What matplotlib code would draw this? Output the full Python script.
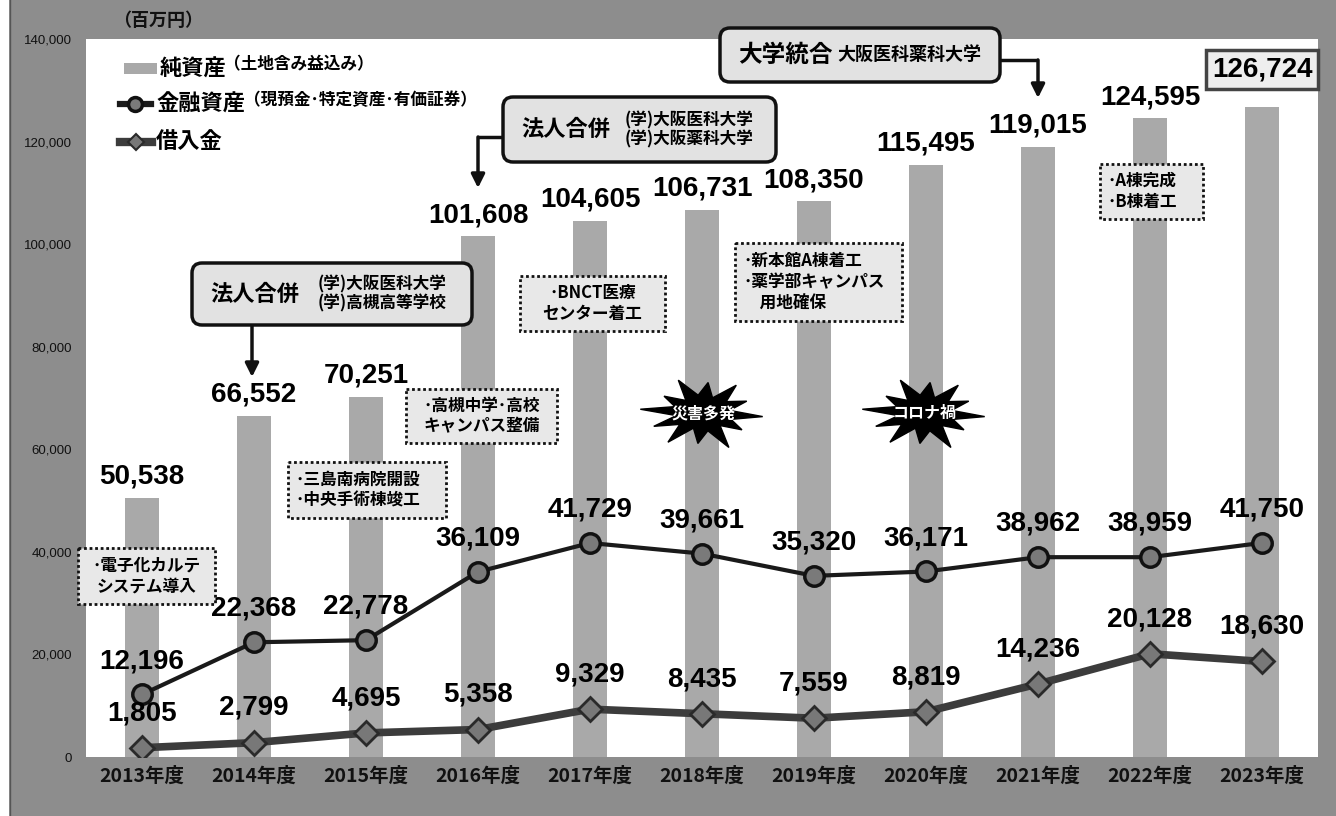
import numpy as np
import matplotlib
matplotlib.use('Agg')
import matplotlib.pyplot as plt
from matplotlib.patches import FancyBboxPatch, Rectangle, Polygon
from matplotlib.lines import Line2D

plt.rcParams['font.family'] = ['Noto Sans CJK JP', 'DejaVu Sans']
NUM = ['Liberation Sans', 'DejaVu Sans']

years = ['2013年度', '2014年度', '2015年度', '2016年度', '2017年度', '2018年度',
         '2019年度', '2020年度', '2021年度', '2022年度', '2023年度']
net_assets = [50538, 66552, 70251, 101608, 104605, 106731, 108350, 115495, 119015, 124595, 126724]
fin_assets = [12196, 22368, 22778, 36109, 41729, 39661, 35320, 36171, 38962, 38959, 41750]
loans = [1805, 2799, 4695, 5358, 9329, 8435, 7559, 8819, 14236, 20128, 18630]
yticks = [0, 20000, 40000, 60000, 80000, 100000, 120000, 140000]

BG = '#8d8d8d'
BAR = '#a9a9a9'

W, H = 1336, 816
fig = plt.figure(figsize=(W/100, H/100), dpi=100, facecolor=BG)
fig.patches.append(Rectangle((0, 0), 9/W, 1, transform=fig.transFigure, facecolor='white', edgecolor='none'))
fig.lines.append(Line2D([10/W, 10/W], [0, 1], transform=fig.transFigure, color='#555555', lw=1))

ax = fig.add_axes([86/W, (H-757)/H, (1318-86)/W, (757-39)/H])
ax.set_facecolor('white')
x = np.arange(len(years))

# bars + lines
ax.bar(x, net_assets, width=0.3, color=BAR, zorder=1)
ax.plot(x, loans, color='#3c3c3c', lw=5.5, marker='D', ms=12, mfc='#787878', mec='#2a2a2a', mew=2, zorder=3)
ax.plot(x, fin_assets, color='#1a1a1a', lw=3, marker='o', ms=14, mfc='#7a7a7a', mec='#111111', mew=2.5, zorder=4)

ax.set_xlim(-0.5, len(years) - 0.5)
ax.set_ylim(0, 140000)
ax.set_yticks(yticks)
ax.set_yticklabels(['{:,}'.format(v) for v in yticks], fontsize=9.5, family=NUM, color='#111111')
ax.set_xticks(x)
ax.set_xticklabels(years, fontsize=14, fontweight='bold', color='#111111')
ax.tick_params(axis='y', length=0, pad=10)
ax.tick_params(axis='x', length=0, pad=7)
for s in ax.spines.values():
    s.set_visible(False)

# value labels
for i, v in enumerate(net_assets):
    if i == len(net_assets) - 1:
        ax.annotate('{:,}'.format(v), (i, v), xytext=(0, 27), textcoords='offset points',
                    ha='center', va='center', fontsize=20, fontweight='bold', family=NUM,
                    bbox=dict(boxstyle='square,pad=0.22', fc='#eeeeee', ec='#444444', lw=2.5), zorder=6)
    else:
        ax.annotate('{:,}'.format(v), (i, v), xytext=(0, 15), textcoords='offset points',
                    ha='center', va='center', fontsize=20, fontweight='bold', family=NUM, zorder=6)
for i, v in enumerate(fin_assets):
    ax.annotate('{:,}'.format(v), (i, v), xytext=(0, 24), textcoords='offset points',
                ha='center', va='center', fontsize=20, fontweight='bold', family=NUM, zorder=6)
for i, v in enumerate(loans):
    ax.annotate('{:,}'.format(v), (i, v), xytext=(0, 25), textcoords='offset points',
                ha='center', va='center', fontsize=20, fontweight='bold', family=NUM, zorder=6)

# overlay in pixel coords for decorations
ov = fig.add_axes([0, 0, 1, 1], facecolor='none')
ov.set_xlim(0, W)
ov.set_ylim(H, 0)
ov.axis('off')

ov.text(113, 20, '（百万円）', fontsize=13, fontweight='bold', va='center', ha='left', color='#111111')

# legend
ov.add_patch(Rectangle((124, 63), 33, 11, facecolor=BAR, edgecolor='none'))
ov.text(160, 69, '純資産', fontsize=16, fontweight='bold', va='center')
ov.text(224, 64, '（土地含み益込み）', fontsize=12, fontweight='bold', va='center')
ov.add_line(Line2D([120, 135, 151], [104, 104, 104], color='#1a1a1a', lw=4.5, marker='o', ms=10,
                   mfc='#7a7a7a', mec='#111111', mew=2.5, markevery=[1]))
ov.text(156, 104, '金融資産', fontsize=16, fontweight='bold', va='center')
ov.text(244, 100, '（現預金･特定資産･有価証券）', fontsize=12, fontweight='bold', va='center')
ov.add_line(Line2D([120, 136, 152], [142, 142, 142], color='#3c3c3c', lw=6, marker='D', ms=8,
                   mfc='#787878', mec='#2a2a2a', mew=1.5, markevery=[1]))
ov.text(156, 142, '借入金', fontsize=16, fontweight='bold', va='center')


def callout(x0, y0, x1, y1, big, bigsize=16):
    ov.add_patch(FancyBboxPatch((x0, y0), x1 - x0, y1 - y0, boxstyle='round,pad=0,rounding_size=10',
                                facecolor='#e2e2e2', edgecolor='#111111', lw=2.5, zorder=5))
    ov.text(x0 + 18, (y0 + y1) / 2, big, fontsize=bigsize, fontweight='bold', va='center', zorder=6)


def arrow(pts):
    xs, ys = zip(*pts)
    ov.plot(xs[:-1], ys[:-1], color='#111111', lw=2.5, solid_capstyle='butt')
    ov.annotate('', xy=pts[-1], xytext=pts[-2],
                arrowprops=dict(arrowstyle='-|>,head_width=0.4,head_length=0.8', color='#111111', lw=2.5,
                                shrinkA=0, shrinkB=0))


callout(192, 263, 472, 325, '法人合併')
ov.text(318, 294, '(学)大阪医科大学\n(学)高槻高等学校', fontsize=12, fontweight='bold', va='center',
        linespacing=1.1, zorder=6)
arrow([(252, 325), (252, 377)])

callout(503, 97, 776, 162, '法人合併')
ov.text(625, 130, '(学)大阪医科大学\n(学)大阪薬科大学', fontsize=12, fontweight='bold', va='center',
        linespacing=1.1, zorder=6)
arrow([(503, 137), (478, 137), (478, 188)])

callout(720, 28, 1000, 82, '大学統合', bigsize=17)
ov.text(837, 55, '大阪医科薬科大学', fontsize=13, fontweight='bold', va='center', zorder=6)
arrow([(1000, 60), (1038, 60), (1038, 98)])


def note(x0, y0, x1, y1, txt, ha='center'):
    ov.add_patch(Rectangle((x0, y0), x1 - x0, y1 - y0, facecolor='#e8e8e8', edgecolor='#111111',
                           lw=2, ls=(0, (1, 1)), zorder=5))
    if ha == 'center':
        ov.text((x0 + x1) / 2, (y0 + y1) / 2, txt, fontsize=12, fontweight='bold', ha='center',
                va='center', multialignment='center', linespacing=1.2, zorder=6)
    else:
        ov.text(x0 + 8, (y0 + y1) / 2, txt, fontsize=12, fontweight='bold', ha='left',
                va='center', linespacing=1.2, zorder=6)


note(78, 548, 215, 604, '･電子化カルテ\nシステム導入')
note(288, 462, 446, 518, '･三島南病院開設\n･中央手術棟竣工', ha='left')
note(406, 389, 557, 443, '･高槻中学･高校\nキャンパス整備')
note(520, 276, 665, 331, '･BNCT医療\nセンター着工')
note(735, 243, 902, 321, '･新本館A棟着工\n･薬学部キャンパス\n\u3000用地確保', ha='left')
note(1100, 164, 1203, 219, '･A棟完成\n･B棟着工', ha='left')

# starbursts
mult = [1.0, 0.5, 0.8, 0.45, 1.05, 0.5, 0.85, 0.45, 1.0, 0.5, 0.9, 0.45, 1.05, 0.5, 0.8, 0.45,
        1.0, 0.5, 0.85, 0.45, 0.95, 0.5, 0.8, 0.45]


def star(cx, cy, txt):
    ang = np.linspace(0, 2 * np.pi, len(mult), endpoint=False) + 0.1
    r = np.array(mult)
    px = cx + 60 * r * np.cos(ang)
    py = cy + 36 * r * np.sin(ang)
    ov.add_patch(Polygon(np.column_stack([px, py]), closed=True, facecolor='black', edgecolor='black', zorder=5))
    ov.text(cx, cy, txt, color='white', fontsize=11.5, fontweight='bold', ha='center', va='center', zorder=6)


star(703, 413, '災害多発')
star(925, 413, 'コロナ禍')

fig.savefig('out.png', dpi=100, facecolor=BG)
